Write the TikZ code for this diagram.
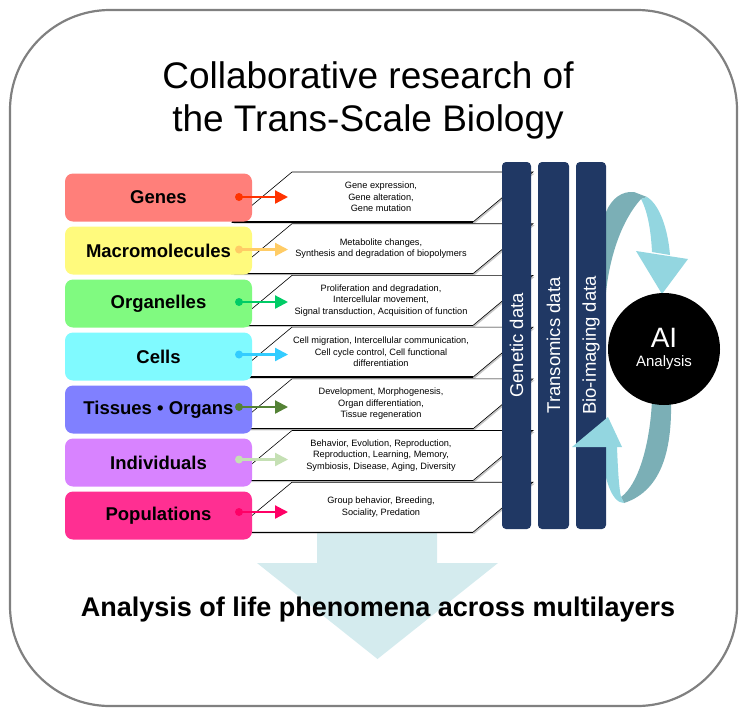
\documentclass[tikz,border=0pt]{standalone}
\usepackage{fontspec}
\setmainfont{Liberation Sans}
\usetikzlibrary{arrows.meta, shadows, positioning}

\definecolor{navy}{RGB}{32,56,100}
\definecolor{framegray}{RGB}{128,128,128}
\definecolor{paleblue}{RGB}{212,235,238}
\definecolor{tealdark}{RGB}{123,175,182}
\definecolor{teallight}{RGB}{147,214,224}
% layer fills
\definecolor{fGenes}{RGB}{255,127,122}
\definecolor{fMacro}{RGB}{255,250,125}
\definecolor{fOrg}{RGB}{128,250,128}
\definecolor{fCells}{RGB}{128,250,255}
\definecolor{fTiss}{RGB}{128,128,255}
\definecolor{fInd}{RGB}{216,131,255}
\definecolor{fPop}{RGB}{255,47,146}
% layer arrows
\definecolor{aGenes}{RGB}{255,51,0}
\definecolor{aMacro}{RGB}{255,204,102}
\definecolor{aOrg}{RGB}{0,204,102}
\definecolor{aCells}{RGB}{51,204,255}
\definecolor{aTiss}{RGB}{84,130,53}
\definecolor{aInd}{RGB}{197,224,180}
\definecolor{aPop}{RGB}{255,0,102}

\tikzset{
  layerbox/.style={rounded corners=8pt, minimum width=187pt, minimum height=48pt, inner sep=0pt,
    font=\fontsize{18.5}{20}\selectfont\bfseries}
}
\tikzset{
  desctext/.style={font=\fontsize{9.2}{11.5}\selectfont, align=center, inner sep=0pt},
  descbox/.style={fill=white, draw=black, line width=0.6pt,
    drop shadow={shadow xshift=1.5pt, shadow yshift=-1.5pt, opacity=0.45}}
}
\tikzset{
  databar/.style={fill=navy, rounded corners=4pt, rotate=90, minimum width=367pt, inner sep=0pt,
    text=white, font=\fontsize{18.5}{20}\selectfont},
  layerarrow/.style={line width=2.2pt, -{Triangle[length=13pt,width=13pt]}}
}

\begin{document}
\begin{tikzpicture}[x=1pt, y=-1pt]
  \useasboundingbox (0,0) rectangle (746,716);
  % frame
  \draw[framegray, line width=2.2pt, rounded corners=100pt] (10,10) rectangle (737,706);
  \node[font=\fontsize{37}{43}\selectfont, align=center] (title) at (368,100)
    {Collaborative research of\\the Trans-Scale Biology};
  % big arrow behind the rows
  \fill[paleblue] (317,500) -- (437,500) -- (437,563) -- (498,563) -- (377.5,659) -- (257,563) -- (317,563) -- cycle;
  \node[font=\fontsize{27}{30}\selectfont\bfseries] (summary) at (378,610) {Analysis of life phenomena across multilayers};
  % description boxes
  \foreach \i/\txt in {0/{Gene expression,\\Gene alteration,\\Gene mutation},
      1/{Metabolite changes,\\Synthesis and degradation of biopolymers},
      2/{Proliferation and degradation,\\Intercellular movement,\\Signal transduction, Acquisition of function},
      3/{Cell migration, Intercellular communication,\\Cell cycle control, Cell functional\\differentiation},
      4/{Development, Morphogenesis,\\Organ differentiation,\\Tissue regeneration},
      5/{Behavior, Evolution, Reproduction,\\Reproduction, Learning, Memory,\\Symbiosis, Disease, Aging, Diversity},
      6/{Group behavior, Breeding,\\Sociality, Predation}}
  {
    \pgfmathsetmacro{\t}{172+51.7*\i}
    \path[descbox] (232,\t+50) -- (292,\t) -- (533,\t) -- (473,\t+50) -- cycle;
    \draw[line width=1.3pt] (232,\t+50) -- (473,\t+50);
    \node[desctext] (desc\i) at (381,\t+25) {\txt};
  }
  % layers
  \foreach \i/\lbl/\fc/\ac in {0/Genes/fGenes/aGenes, 1/Macromolecules/fMacro/aMacro,
      2/Organelles/fOrg/aOrg, 3/Cells/fCells/aCells, 4/Tissues • Organs/fTiss/aTiss,
      5/Individuals/fInd/aInd, 6/Populations/fPop/aPop}
  {
    \node[layerbox, fill=\fc] (layer\i) at (158.5,197.5+53*\i) {\lbl};
    \coordinate (dot\i) at (239,197+52.5*\i);
    \coordinate (tip\i) at (288,197+52.5*\i);
    \fill[\ac] (dot\i) circle (4);
    \draw[layerarrow, \ac] (dot\i) -- (tip\i);
  }
  % cycle ribbons
  \fill[tealdark] (606,212) .. controls (612,198) and (622,191) .. (634,192) -- (647,197) -- (641,199)
    .. controls (622,220) and (610,255) .. (606,292) -- cycle;
  \fill[teallight] (641,199) -- (647,197) .. controls (660,205) and (668,230) .. (670,255) -- (652,252)
    .. controls (651,232) and (648,212) .. (641,199) -- cycle;
  \fill[teallight] (636,251) -- (688,259) -- (662,294) -- cycle;
  \fill[tealdark] (652,400) -- (671,400) .. controls (672,445) and (664,490) .. (624,503) -- (621,497)
    .. controls (638,485) and (650,445) .. (652,400) -- cycle;
  \fill[teallight] (624,503) .. controls (612,503) and (604,480) .. (601,447) -- (617,447)
    .. controls (618,472) and (619,488) .. (621,497) -- cycle;
  % data bars
  \node[databar, minimum height=29pt] (genetic) at (516.5,345.5) {Genetic data};
  \node[databar, minimum height=31pt] (transomics) at (553.5,345.5) {Transomics data};
  \node[databar, minimum height=30pt] (bioimaging) at (591,345.5) {Bio-imaging data};
  \fill[teallight] (572,447) -- (622,447) -- (608,417) -- cycle;
  % AI
  \node[circle, fill=black, minimum size=112pt, inner sep=0pt, text=white, align=center] (ai) at (664,349)
    {\fontsize{28}{30}\selectfont AI\\[7pt]\fontsize{15}{18}\selectfont Analysis};
\end{tikzpicture}
\end{document}
